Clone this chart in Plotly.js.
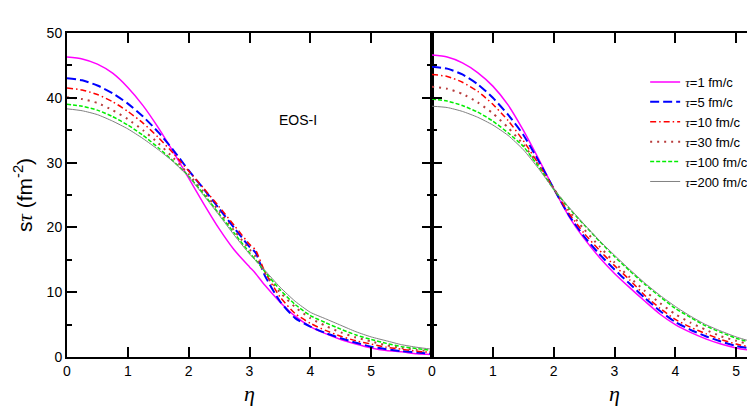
<!DOCTYPE html>
<html><head><meta charset="utf-8">
<script src="https://cdn.plot.ly/plotly-3.0.1.min.js"></script>
<style>html,body{margin:0;padding:0;overflow:hidden;background:#fff;width:747px;height:416px;} #chart{width:840px;height:416px;}</style>
</head><body><div id="chart"></div><script>
// Left panel (EOS-I)
const etaLeft = [0,0.25,0.5,0.75,1,1.25,1.5,1.75,2,2.25,2.5,2.75,3,3.1,3.25,3.5,3.75,4,4.25,4.5,4.75,5,5.25,5.5,5.75,6];
const tau1L   = [46.3,46.0,45.2,43.8,41.6,38.8,35.4,31.6,27.6,23.6,19.8,16.5,13.9,12.9,11.1,8.5,6.3,4.7,3.6,2.7,2.0,1.4,1.0,0.8,0.5,0.4];
const tau5L   = [43.0,42.7,41.9,40.7,39.1,37.1,34.7,31.9,28.8,25.9,22.9,19.9,17.0,16.1,12.6,8.6,6.0,4.7,3.7,2.9,2.2,1.6,1.2,0.9,0.7,0.5];
const tau10L  = [41.5,41.2,40.5,39.4,37.9,36.1,33.9,31.4,28.7,26.0,23.2,20.3,17.4,16.5,13.2,9.3,6.7,5.2,4.1,3.2,2.5,2.0,1.5,1.2,0.9,0.7];
const tau30L  = [40.1,39.8,39.2,38.1,36.7,35.0,33.0,30.7,28.2,25.4,22.5,19.5,16.6,15.5,13.0,10.0,7.7,6.0,4.8,3.8,3.0,2.4,1.8,1.4,1.1,0.8];
const tau100L = [39.0,38.7,38.1,37.1,35.8,34.2,32.3,30.2,27.9,25.1,22.1,19.1,16.1,15.0,13.2,10.4,8.1,6.4,5.3,4.3,3.4,2.7,2.1,1.6,1.3,1.0];
const tau200L = [38.3,38.0,37.4,36.4,35.2,33.7,32.0,30.1,27.8,24.9,21.9,18.8,15.9,14.9,13.4,10.8,8.6,6.9,5.9,4.9,3.9,3.1,2.5,1.9,1.5,1.2];
// Right panel
const etaRight = [0,0.25,0.5,0.75,1,1.25,1.5,1.75,2,2.25,2.5,2.75,3,3.25,3.5,3.75,4,4.25,4.5,4.75,5,5.25,5.5,5.75,6];
const tau1R   = [46.6,46.3,45.4,43.9,41.8,38.9,35.0,30.6,26.0,21.7,18.3,15.4,12.9,10.7,8.6,6.6,5.0,3.8,2.8,2.0,1.4,1.0,0.7,0.5,0.4];
const tau5R   = [44.8,44.5,43.6,42.1,40.0,37.4,34.3,30.3,26.0,21.9,18.6,15.9,13.5,11.3,9.1,7.1,5.4,4.2,3.2,2.4,1.7,1.3,0.9,0.7,0.5];
const tau10R  = [43.6,43.3,42.4,41.0,39.0,36.5,33.4,29.8,26.0,22.2,19.1,16.5,14.1,11.9,9.5,7.5,5.8,4.6,3.6,2.7,2.0,1.5,1.1,0.8,0.6];
const tau30R  = [41.7,41.4,40.6,39.3,37.6,35.4,32.8,29.6,26.0,22.6,19.7,17.1,14.6,12.3,10.2,8.3,6.6,5.3,4.2,3.2,2.5,1.9,1.4,1.1,0.8];
const tau100R = [39.8,39.5,38.8,37.8,36.4,34.6,32.5,29.4,25.9,23.0,20.4,17.9,15.5,13.3,11.2,9.3,7.5,6.1,4.8,3.8,2.9,2.2,1.7,1.3,1.0];
const tau200R = [38.7,38.5,37.9,37.0,35.8,34.2,32.0,29.1,25.9,23.1,20.5,18.0,15.7,13.5,11.4,9.5,7.8,6.3,5.0,4.0,3.1,2.4,1.9,1.5,1.2];

const tauLabels = ['1 fm/c','5 fm/c','10 fm/c','30 fm/c','100 fm/c','200 fm/c'];
const xTicks = [0,1,2,3,4,5];
const yMajorTicks = [0,10,20,30,40,50];
const seriesL = [tau1L,tau5L,tau10L,tau30L,tau100L,tau200L];
const seriesR = [tau1R,tau5R,tau10R,tau30R,tau100R,tau200R];
const styles = [
  {color:'#FF00FF', width:1.5, dash:'solid'},
  {color:'#0000FF', width:2, dash:'9px,4px'},
  {color:'#FF0000', width:1.5, dash:'6px,3px,1.5px,3px'},
  {color:'#B83C3C', width:2, dash:'2px,5px'},
  {color:'#00EE00', width:1.5, dash:'4px,2px'},
  {color:'#808080', width:1, dash:'solid'}
];
const tauSym = '<span style="font-family:Liberation Serif"><i>τ</i></span>';
const traces = [];
seriesL.forEach((s,i)=>{
  traces.push({x:etaLeft, y:s, xaxis:'x', yaxis:'y', type:'scatter', mode:'lines',
    name: tauSym + '=' + tauLabels[i], showlegend:true,
    line:{color:styles[i].color, width:styles[i].width, dash:styles[i].dash, shape:'spline', smoothing:0.6}});
});
seriesR.forEach((s,i)=>{
  traces.push({x:etaRight, y:s, xaxis:'x2', yaxis:'y2', type:'scatter', mode:'lines',
    showlegend:false,
    line:{color:styles[i].color, width:styles[i].width, dash:styles[i].dash, shape:'spline', smoothing:0.6}});
});

const tickFont = {family:'Liberation Sans, Arial, sans-serif', size:14, color:'#000'};
const axCommon = {showgrid:false, zeroline:false, showline:true, linecolor:'#000', linewidth:2,
  ticks:'inside', ticklen:10, tickwidth:2, tickcolor:'#000', mirror:'ticks', tickfont:tickFont};
const minorY = {dtick:5, tick0:0, ticklen:5, tickwidth:2, tickcolor:'#000', ticks:'inside', showgrid:false};
const layout = {
  width:840, height:416,
  margin:{l:67, r:43, t:33, b:59},
  showlegend:true,
  legend:{x:0.792, y:0.895, xanchor:'left', yanchor:'top', bgcolor:'rgba(0,0,0,0)',
    font:{family:'Liberation Sans, Arial, sans-serif', size:13, color:'#000'}, itemwidth:30},
  xaxis: Object.assign({}, axCommon, {domain:[0,0.5], range:[0,6], tickvals:xTicks, anchor:'y',
    title:{text:'<i>η</i>', font:{family:'Liberation Serif, serif', size:22, color:'#000'}, standoff:8}}),
  xaxis2: Object.assign({}, axCommon, {domain:[0.5,1], range:[0,6], tickvals:xTicks, anchor:'y2',
    title:{text:'<i>η</i>', font:{family:'Liberation Serif, serif', size:22, color:'#000'}, standoff:8}}),
  yaxis: Object.assign({}, axCommon, {range:[0,50], tickvals:yMajorTicks, anchor:'x', minor:minorY,
    title:{text:'s'+'<span style="font-family:Liberation Serif"><i>τ</i></span> (fm<sup>-2</sup>)',
      font:{family:'Liberation Sans, Arial, sans-serif', size:21, color:'#000'}, standoff:8}}),
  yaxis2: Object.assign({}, axCommon, {range:[0,50], tickvals:yMajorTicks, anchor:'x2', showticklabels:false, minor:minorY}),
  annotations:[{xref:'x', yref:'y', x:3.8, y:36.6, text:'EOS-I', showarrow:false,
    font:{family:'Liberation Sans, Arial, sans-serif', size:14, color:'#000'}}]
};
Plotly.newPlot('chart', traces, layout, {staticPlot:true}).then(gd=>{
  // make sure Plotly's own tick marks sit on top of everything and are fully opaque
  const svgs = gd.querySelectorAll('svg.main-svg');
  const top = svgs[svgs.length-1];
  const g = document.createElementNS('http://www.w3.org/2000/svg','g');
  gd.querySelectorAll('path').forEach(p=>{
    const c = p.getAttribute('class') || '';
    if (/tick/.test(c)) {
      const cl = p.cloneNode(true);
      cl.setAttribute('style','stroke:#000;stroke-opacity:1;stroke-width:2px;fill:none;opacity:1;visibility:visible');
      cl.setAttribute('shape-rendering','crispEdges');
      g.appendChild(cl);
    }
  });
  top.appendChild(g);
});
</script></body></html>
